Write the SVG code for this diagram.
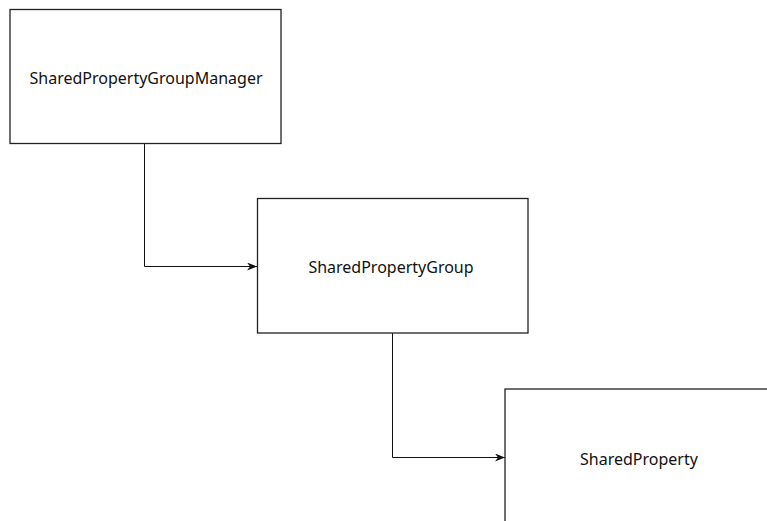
<svg xmlns="http://www.w3.org/2000/svg" width="767" height="521" viewBox="0 0 767 521">
<style>
.box{fill:#fff;stroke:#222;stroke-width:1.3}
.lbl{font-family:"Noto Sans","Liberation Sans",sans-serif;font-size:16px;fill:#111;text-anchor:middle;dominant-baseline:central}
.conn{fill:none;stroke:#111;stroke-width:1}
</style>
<defs>
<marker id="arr" viewBox="0 0 10 8" refX="10" refY="4" markerWidth="10" markerHeight="8" markerUnits="userSpaceOnUse" orient="auto">
<path d="M0,0 L10,4 L0,8 L3,4 Z" fill="#111"/>
</marker>
</defs>
<rect width="767" height="521" fill="#fff"/>
<g id="connectors">
<path class="conn" d="M144.5,144 V266.5 H257" marker-end="url(#arr)"/>
<path class="conn" d="M392.5,333 V457.5 H505" marker-end="url(#arr)"/>
</g>
<g id="SharedPropertyGroupManager">
<rect class="box" x="10" y="9.5" width="271" height="134"/>
<text class="lbl" x="146" y="77.5">SharedPropertyGroupManager</text>
</g>
<g id="SharedPropertyGroup">
<rect class="box" x="257.5" y="198.5" width="270.5" height="134.5"/>
<text class="lbl" x="391" y="267">SharedPropertyGroup</text>
</g>
<g id="SharedProperty">
<rect class="box" x="505" y="389" width="280" height="140"/>
<text class="lbl" x="639" y="459">SharedProperty</text>
</g>
</svg>
